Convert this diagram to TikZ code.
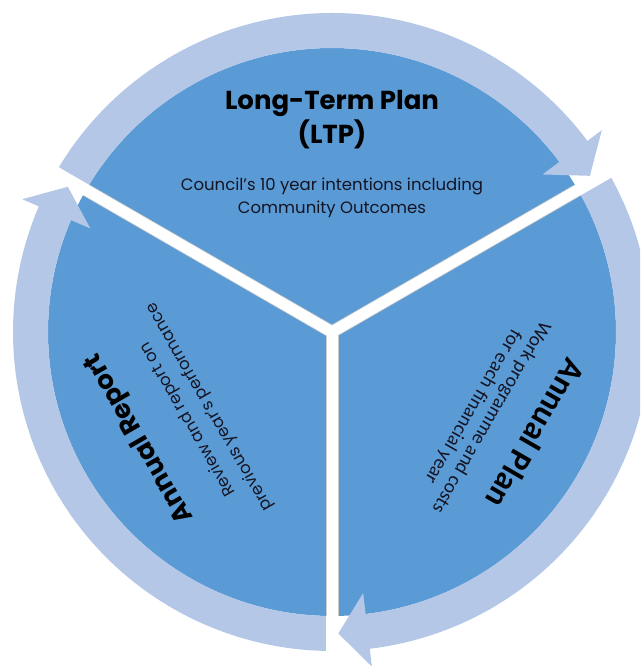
\documentclass[tikz,border=0pt]{standalone}
\usepackage{fontspec}
\setmainfont{Poppins}
\newfontfamily\calib{Carlito}
\definecolor{sectorc}{RGB}{91,155,213}
\definecolor{ringc}{RGB}{180,199,231}
\definecolor{txtc}{RGB}{20,20,35}
\tikzset{
  ringpart/.style={fill=ringc},
  gapband/.style={fill=white},
  gapedge/.style={draw=gray!40, line width=0.6pt},
  titletext/.style={text=black, inner sep=0pt, align=center, font=\bfseries\fontsize{26}{34}\selectfont},
  bodytext/.style={text=txtc, inner sep=0pt, align=center, font=\fontsize{16.5}{23}\selectfont},
  sidebody/.style={text=txtc, inner sep=0pt, align=center, font=\fontsize{16.5}{25}\selectfont},
  plantitle/.style={text=black, inner sep=0pt, align=center, font=\calib\bfseries\fontsize{33}{36}\selectfont},
  planbody/.style={text=txtc, inner sep=0pt, align=center, font=\calib\fontsize{19.5}{21}\selectfont}
}
\begin{document}
\begin{tikzpicture}[x=1pt,y=1pt]
\useasboundingbox (0,0) rectangle (640,666);
\clip (0,0) rectangle (640,666);
\begin{scope}[shift={(332,334)}]
  % central disc
  \fill[sectorc] (0,0) circle[radius=284pt];
  % circular arrows
  \foreach \a/\b/\t in {150/36.8/31.2, 30/-83.2/-88.8, 270/156.8/151.2} {
    \pgfmathsetmacro{\c}{\b-1}
    \fill[ringpart] (\a:319pt) arc[start angle=\a, end angle=\c, radius=319pt]
      -- (\c:284pt) arc[start angle=\c, end angle=\a, radius=284pt] -- cycle;
    \fill[ringpart] (\b:337pt) -- (\t:301.5pt) -- (\b:263pt) -- cycle;
  }
  % white gaps between the sectors
  \foreach \g in {30,150,270} {
    \fill[gapband, rotate=\g] (0,-6) rectangle (345,6);
  }
  \foreach \g in {30,150,270} {
    \draw[gapedge, rotate=\g] (3.5,6) -- (284,6) (3.5,-6) -- (284,-6);
  }
\end{scope}
% texts
\node[titletext] (ltp) at (332,546) {Long-Term Plan\\(LTP)};
\node[bodytext] (ltpbody) at (332,468) {Council's 10 year intentions including\\Community Outcomes};
\node[titletext, rotate=120] (ar) at (140,228) {Annual Report};
\node[sidebody, rotate=120] (arbody) at (199,253) {Review and report on\\previous year's performance};
\node[plantitle, rotate=-120] (ap) at (536,232) {Annual Plan};
\node[planbody, rotate=-120] (apbody) at (482,254) {Work programme and costs\\for each financial year};
\end{tikzpicture}
\end{document}
